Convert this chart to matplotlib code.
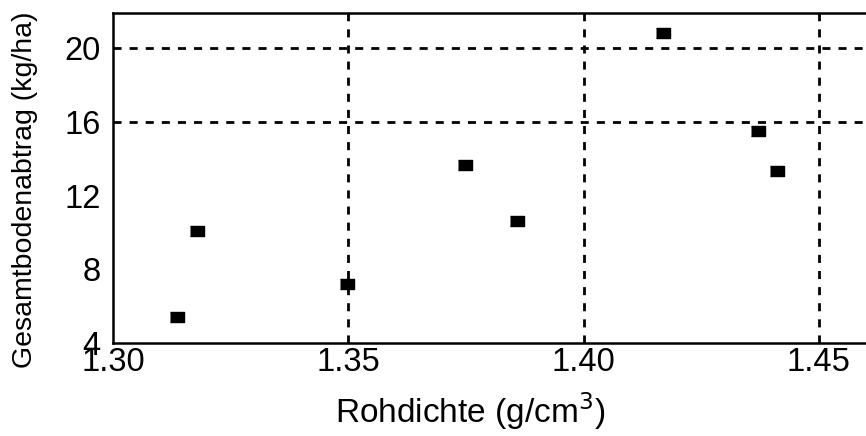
import matplotlib
matplotlib.use("Agg")
import matplotlib.pyplot as plt

# Data
rohdichte = [1.3135, 1.3178, 1.3497, 1.3748, 1.3858, 1.4169, 1.4370, 1.4412]
abtrag = [5.41, 10.06, 7.23, 13.66, 10.62, 20.86, 15.54, 13.34]

x_ticks = [1.30, 1.35, 1.40, 1.45]
x_ticklabels = ["1.30", "1.35", "1.40", "1.45"]
y_ticks = [4, 8, 12, 16, 20]
y_ticklabels = ["4", "8", "12", "16", "20"]
grid_x = [1.35, 1.40, 1.45]
grid_y = [16, 20]

plt.rcParams['font.family'] = ['Liberation Sans', 'DejaVu Sans']

fig = plt.figure(figsize=(8.66, 4.36), dpi=100)
ax = fig.add_axes([113/866, (436-343)/436, 800/866, (343-13.5)/436])

ax.set_xlim(1.30, 1.47)
ax.set_ylim(4, 21.9)

for gx in grid_x:
    ax.axvline(gx, color='black', lw=2.0, linestyle=(0, (2.9, 2.9)), zorder=1)
for gy in grid_y:
    ax.axhline(gy, color='black', lw=2.0, linestyle=(0, (2.9, 2.9)), zorder=1)

rect = [(-7, -5.5), (7, -5.5), (7, 5.5), (-7, 5.5)]
ax.plot(rohdichte, abtrag, linestyle='none', marker=rect, markersize=10,
        color='black', zorder=3)

ax.set_xticks(x_ticks)
ax.set_xticklabels(x_ticklabels)
ax.set_yticks(y_ticks)
ax.set_yticklabels(y_ticklabels)
ax.tick_params(axis='x', length=0, pad=3, labelsize=23.5)
ax.tick_params(axis='y', length=0, pad=9, labelsize=23.5)

for s in ax.spines.values():
    s.set_linewidth(1.8)

fig.text(470/866, 13/436, "Rohdichte (g/cm$^3$)", ha='center', va='baseline',
         fontsize=24)
fig.text(25/866, 246/436, "Gesamtbodenabtrag (kg/ha)", ha='center', va='center',
         rotation=90, fontsize=20.5)

fig.savefig("out.png", dpi=100)
